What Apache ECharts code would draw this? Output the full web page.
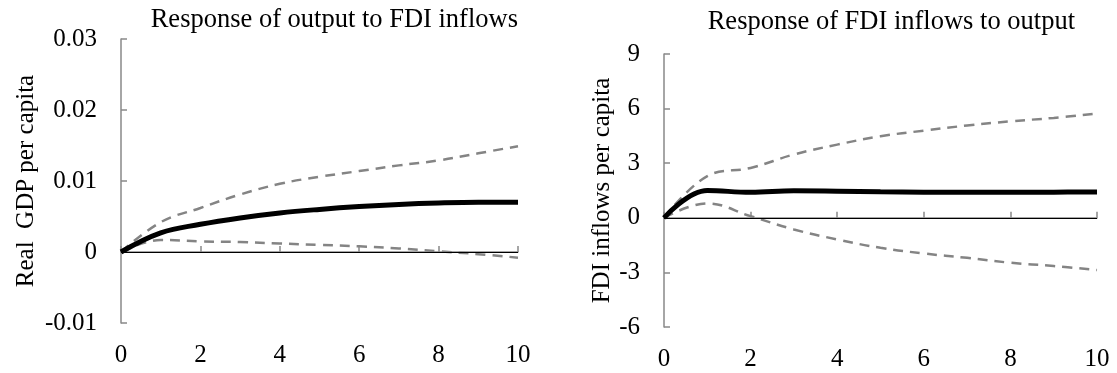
<!DOCTYPE html>
<html>
<head>
<meta charset="utf-8">
<script src="https://cdn.jsdelivr.net/npm/echarts@6/dist/echarts.min.js"></script>
<style>
html, body { margin: 0; padding: 0; background: #fff; }
#main { width: 1117px; height: 373px; }
</style>
</head>
<body>
<div id="main"></div>
<script>
// horizon (periods after shock)
var periods = [0, 1, 2, 3, 4, 5, 6, 7, 8, 9, 10];

// response of output to FDI inflows
var gdpMid   = [0, 0.0027, 0.0039, 0.0048, 0.0055, 0.0060, 0.0064, 0.0067, 0.0069, 0.0070, 0.0070];
var gdpUpper = [0, 0.0042, 0.0062, 0.0081, 0.0096, 0.0106, 0.0114, 0.0122, 0.0129, 0.0139, 0.0149];
var gdpLower = [0, 0.0017, 0.0015, 0.0014, 0.0012, 0.0010, 0.0008, 0.0005, 0.0001, -0.0003, -0.0008];

// response of FDI inflows to output
var fdiMid   = [0, 1.50, 1.40, 1.48, 1.46, 1.43, 1.41, 1.40, 1.40, 1.41, 1.42];
var fdiUpper = [0, 2.29, 2.74, 3.48, 4.02, 4.48, 4.79, 5.07, 5.30, 5.49, 5.73];
var fdiLower = [0, 0.79, 0.09, -0.64, -1.19, -1.65, -1.96, -2.20, -2.47, -2.65, -2.87];

var FONT = 'Liberation Serif';

function pairs(ys) {
    return periods.map(function (p, i) { return [p, ys[i]]; });
}

// x轴
function xAxisOf(idx) {
    return {
        type: 'value', gridIndex: idx, min: 0, max: 10, interval: 2,
        axisLine: { lineStyle: { color: '#898989', width: 1.5 } },
        axisTick: { inside: true, length: 6, lineStyle: { color: '#898989', width: 1.5 } },
        axisLabel: { color: '#000', fontFamily: FONT, fontSize: 25, margin: 20 },
        splitLine: { show: false }
    };
}

// y轴
function yAxisOf(idx, min, max, step, name, gap) {
    return {
        type: 'value', gridIndex: idx, min: min, max: max, interval: step,
        name: name, nameLocation: 'middle', nameGap: gap, nameRotate: 90,
        nameTextStyle: { color: '#000', fontFamily: FONT, fontSize: 25 },
        axisLine: { show: true, onZero: false, lineStyle: { color: '#898989', width: 1.5 } },
        axisTick: { show: true, inside: true, length: 6, lineStyle: { color: '#898989', width: 1.5 } },
        axisLabel: { color: '#000', fontFamily: FONT, fontSize: 25, margin: 24 },
        splitLine: { show: false }
    };
}

function mainLine(idx, ys) {
    return {
        type: 'line', xAxisIndex: idx, yAxisIndex: idx, data: pairs(ys),
        smooth: 0.4, symbol: 'none', z: 5,
        lineStyle: { color: '#000', width: 5 },
        markLine: {
            silent: true, symbol: 'none', label: { show: false },
            lineStyle: { color: '#000', width: 1, type: 'solid' },
            data: [{ yAxis: 0 }]
        }
    };
}

function bandLine(idx, ys) {
    return {
        type: 'line', xAxisIndex: idx, yAxisIndex: idx, data: pairs(ys),
        smooth: 0.4, symbol: 'none', z: 4,
        lineStyle: { color: '#848484', width: 2.5, type: [10, 7] }
    };
}

var myChart = echarts.init(document.getElementById('main'));
var option = {
    animation: false,
    backgroundColor: '#fff',
    title: [
        { text: 'Response of output to FDI inflows', right: 599, top: 7, padding: 0,
          textStyle: { fontFamily: FONT, fontSize: 26.5, fontWeight: 'normal', color: '#000' } },
        { text: 'Response of FDI inflows to output', right: 42, top: 9, padding: 0,
          textStyle: { fontFamily: FONT, fontSize: 26.5, fontWeight: 'normal', color: '#000' } }
    ],
    grid: [
        { left: 121, right: 599, top: 39, bottom: 50 },
        { left: 664, right: 20, top: 54, bottom: 46 }
    ],
    xAxis: [xAxisOf(0), xAxisOf(1)],
    yAxis: [
        yAxisOf(0, -0.01, 0.03, 0.01, 'Real  GDP per capita', 82),
        yAxisOf(1, -6, 9, 3, 'FDI inflows per capita', 47)
    ],
    series: [
        bandLine(0, gdpUpper), bandLine(0, gdpLower), mainLine(0, gdpMid),
        bandLine(1, fdiUpper), bandLine(1, fdiLower), mainLine(1, fdiMid)
    ]
};
myChart.setOption(option);
</script>
</body>
</html>
